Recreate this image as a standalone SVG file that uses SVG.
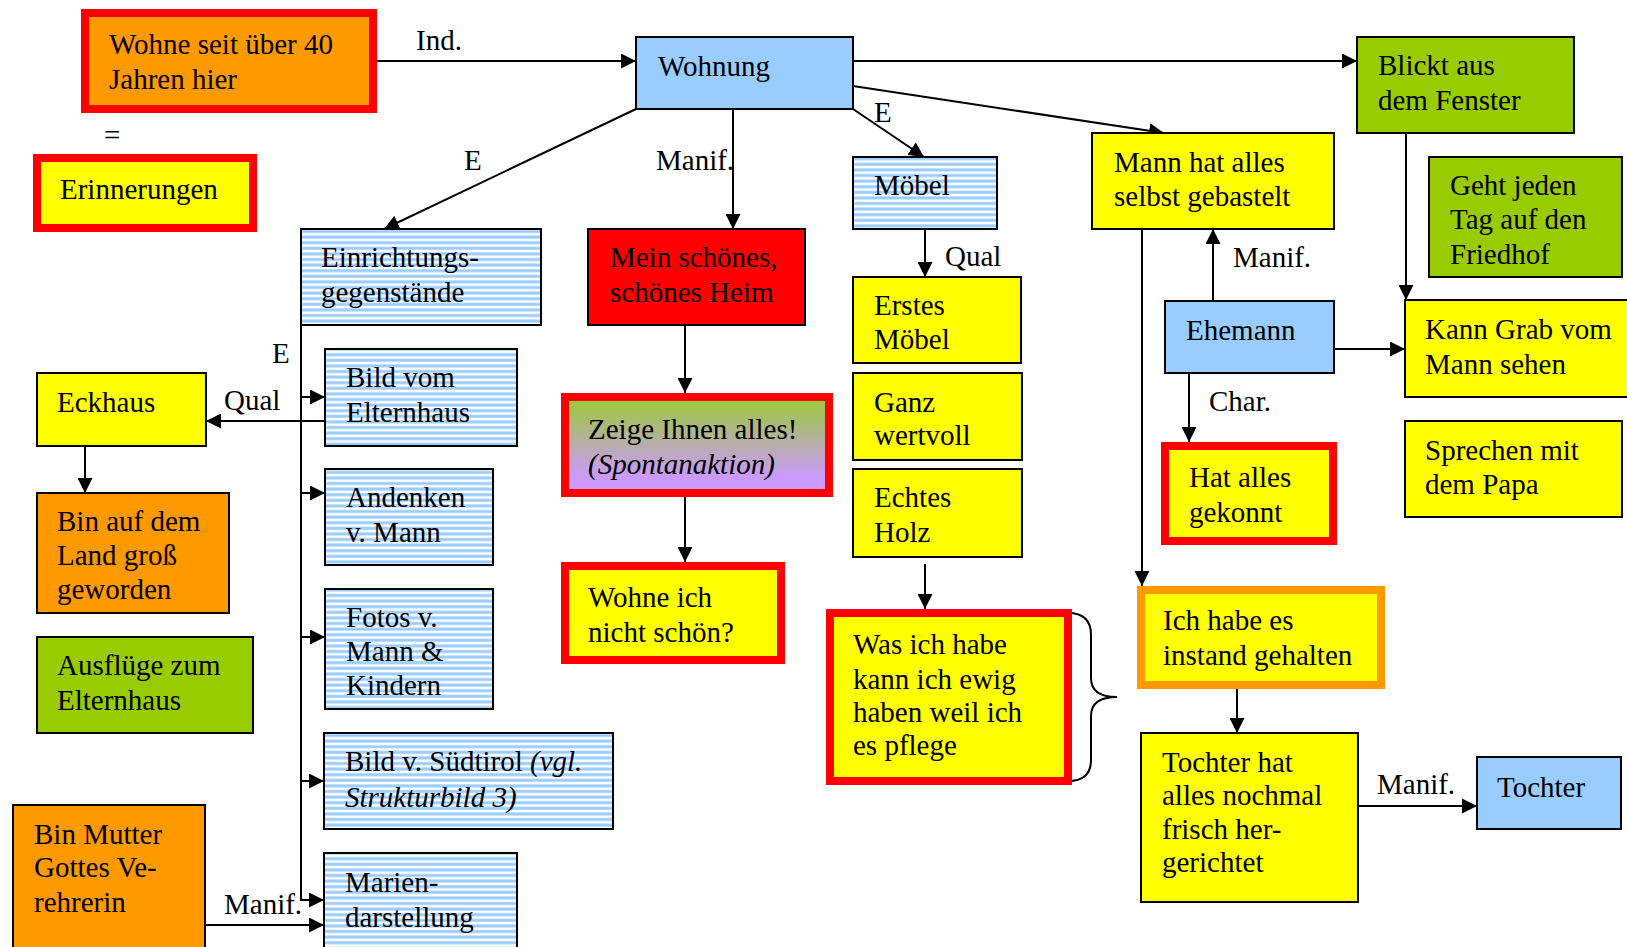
<svg xmlns="http://www.w3.org/2000/svg" width="1627" height="947" viewBox="0 0 1627 947">
  <defs>
    <style>
      .t { font-family: "Liberation Serif", "Times New Roman", serif; font-size: 29px; fill: #000; }
      .i { font-style: italic; }
      .b { stroke: #000; stroke-width: 2; }
      .k { stroke-width: 8; }
      .red { stroke: #FF0000; }
      .org { stroke: #FF9900; }
      .y { fill: #FFFF00; }
      .o { fill: #FF9900; }
      .g { fill: #99CC00; }
      .lb { fill: #99CCFF; }
      .r { fill: #FF0000; }
      .s { fill: url(#stripes); }
      .c { stroke: #000; stroke-width: 2; fill: none; }
      .a { marker-end: url(#arr); }
    </style>
    <pattern id="stripes" width="10" height="5.6" patternUnits="userSpaceOnUse">
      <rect width="10" height="5.6" fill="#FFFFFF"/>
      <rect y="0.4" width="10" height="3" fill="#99CCFF"/>
    </pattern>
    <linearGradient id="grad" x1="0" y1="0" x2="0" y2="1">
      <stop offset="0" stop-color="#99CC33"/>
      <stop offset="0.85" stop-color="#CC99FF"/>
    </linearGradient>
    <marker id="arr" markerWidth="15" markerHeight="15" refX="15" refY="7.5" orient="auto" markerUnits="userSpaceOnUse">
      <path d="M0,0 L15,7.5 L0,15 z" fill="#000"/>
    </marker>
  </defs>

  <!-- connectors -->
  <g id="connectors">
    <line class="c a" x1="377" y1="61" x2="636" y2="61"/>
    <line class="c a" x1="853" y1="61" x2="1357" y2="61"/>
    <line class="c a" x1="853" y1="86" x2="1164" y2="133"/>
    <line class="c a" x1="636" y1="109" x2="384" y2="229"/>
    <line class="c a" x1="733" y1="109" x2="733" y2="229"/>
    <line class="c a" x1="853" y1="109" x2="924" y2="157"/>
    <line class="c a" x1="925" y1="229" x2="925" y2="277"/>
    <line class="c a" x1="925" y1="564" x2="925" y2="609"/>
    <line class="c a" x1="685" y1="325" x2="685" y2="393"/>
    <line class="c a" x1="685" y1="497" x2="685" y2="562"/>
    <line class="c a" x1="1142" y1="229" x2="1142" y2="586"/>
    <line class="c a" x1="1213" y1="301" x2="1213" y2="229"/>
    <line class="c a" x1="1334" y1="349" x2="1405" y2="349"/>
    <line class="c a" x1="1189" y1="373" x2="1189" y2="442"/>
    <line class="c a" x1="1406" y1="133" x2="1406" y2="300"/>
    <line class="c a" x1="1237" y1="689" x2="1237" y2="733"/>
    <line class="c a" x1="1358" y1="806" x2="1477" y2="806"/>
    <!-- Einrichtungsgegenstände branch -->
    <polyline class="c a" points="301,325 301,900 324,900"/>
    <line class="c a" x1="301" y1="397" x2="325" y2="397"/>
    <line class="c a" x1="301" y1="493" x2="325" y2="493"/>
    <line class="c a" x1="301" y1="637" x2="325" y2="637"/>
    <line class="c a" x1="301" y1="781" x2="324" y2="781"/>
    <line class="c a" x1="325" y1="421" x2="206" y2="421"/>
    <line class="c a" x1="85" y1="446" x2="85" y2="493"/>
    <line class="c a" x1="205" y1="925" x2="324" y2="925"/>
    <!-- brace -->
    <path class="c" d="M1068,613 Q1091,613 1091,635 L1091,678 Q1091,697 1117,697 Q1091,697 1091,716 L1091,760 Q1091,781 1068,781"/>
    <!-- edge labels -->
    <text class="t" x="416" y="50">Ind.</text>
    <text class="t" x="104" y="145">=</text>
    <text class="t" x="464" y="170">E</text>
    <text class="t" x="656" y="170">Manif.</text>
    <text class="t" x="874" y="122">E</text>
    <text class="t" x="945" y="266">Qual</text>
    <text class="t" x="1233" y="267">Manif.</text>
    <text class="t" x="1209" y="411">Char.</text>
    <text class="t" x="272" y="363">E</text>
    <text class="t" x="224" y="410">Qual</text>
    <text class="t" x="224" y="914">Manif.</text>
    <text class="t" x="1377" y="794">Manif.</text>
  </g>

  <g id="wohne40">
    <rect class="o k red" x="85" y="13" width="288" height="96"/>
    <text class="t" x="109" y="54">Wohne seit über 40</text>
    <text class="t" x="109" y="89">Jahren hier</text>
  </g>
  <g id="erinnerungen">
    <rect class="y k red" x="37" y="158" width="216" height="70"/>
    <text class="t" x="60" y="199">Erinnerungen</text>
  </g>
  <g id="wohnung">
    <rect class="lb b" x="636" y="37" width="217" height="72"/>
    <text class="t" x="658" y="76">Wohnung</text>
  </g>
  <g id="blickt">
    <rect class="g b" x="1357" y="37" width="217" height="96"/>
    <text class="t" x="1378" y="75">Blickt aus</text>
    <text class="t" x="1378" y="110">dem Fenster</text>
  </g>
  <g id="mann">
    <rect class="y b" x="1092" y="133" width="242" height="96"/>
    <text class="t" x="1114" y="172">Mann hat alles</text>
    <text class="t" x="1114" y="206">selbst gebastelt</text>
  </g>
  <g id="geht">
    <rect class="g b" x="1429" y="157" width="193" height="120"/>
    <text class="t" x="1450" y="195">Geht jeden</text>
    <text class="t" x="1450" y="229">Tag auf den</text>
    <text class="t" x="1450" y="264">Friedhof</text>
  </g>
  <g id="einrichtung">
    <rect class="s b" x="301" y="229" width="240" height="96"/>
    <text class="t" x="321" y="267">Einrichtungs-</text>
    <text class="t" x="321" y="302">gegenstände</text>
  </g>
  <g id="mein">
    <rect class="r b" x="588" y="229" width="217" height="96"/>
    <text class="t" x="610" y="267">Mein schönes,</text>
    <text class="t" x="610" y="302">schönes Heim</text>
  </g>
  <g id="moebel">
    <rect class="s b" x="853" y="157" width="144" height="72"/>
    <text class="t" x="874" y="195">Möbel</text>
  </g>
  <g id="erstes">
    <rect class="y b" x="853" y="277" width="168" height="86"/>
    <text class="t" x="874" y="315">Erstes</text>
    <text class="t" x="874" y="349">Möbel</text>
  </g>
  <g id="ganz">
    <rect class="y b" x="853" y="373" width="169" height="87"/>
    <text class="t" x="874" y="412">Ganz</text>
    <text class="t" x="874" y="445">wertvoll</text>
  </g>
  <g id="echtes">
    <rect class="y b" x="853" y="469" width="169" height="88"/>
    <text class="t" x="874" y="507">Echtes</text>
    <text class="t" x="874" y="542">Holz</text>
  </g>
  <g id="ehemann">
    <rect class="lb b" x="1165" y="301" width="169" height="72"/>
    <text class="t" x="1186" y="340">Ehemann</text>
  </g>
  <g id="kanngrab">
    <rect class="y b" x="1405" y="300" width="240" height="97"/>
    <text class="t" x="1425" y="339">Kann Grab vom</text>
    <text class="t" x="1425" y="374">Mann sehen</text>
  </g>
  <g id="hatalles">
    <rect class="y k red" x="1165" y="446" width="168" height="95"/>
    <text class="t" x="1189" y="487">Hat alles</text>
    <text class="t" x="1189" y="522">gekonnt</text>
  </g>
  <g id="sprechen">
    <rect class="y b" x="1405" y="421" width="217" height="96"/>
    <text class="t" x="1425" y="460">Sprechen mit</text>
    <text class="t" x="1425" y="494">dem Papa</text>
  </g>
  <g id="eckhaus">
    <rect class="y b" x="37" y="373" width="169" height="73"/>
    <text class="t" x="57" y="412">Eckhaus</text>
  </g>
  <g id="bildvom">
    <rect class="s b" x="325" y="349" width="192" height="97"/>
    <text class="t" x="346" y="387">Bild vom</text>
    <text class="t" x="346" y="422">Elternhaus</text>
  </g>
  <g id="binauf">
    <rect class="o b" x="37" y="493" width="192" height="120"/>
    <text class="t" x="57" y="531">Bin auf dem</text>
    <text class="t" x="57" y="565">Land groß</text>
    <text class="t" x="57" y="599">geworden</text>
  </g>
  <g id="andenken">
    <rect class="s b" x="325" y="469" width="168" height="96"/>
    <text class="t" x="346" y="507">Andenken</text>
    <text class="t" x="346" y="542">v. Mann</text>
  </g>
  <g id="fotos">
    <rect class="s b" x="325" y="589" width="168" height="120"/>
    <text class="t" x="346" y="627">Fotos v.</text>
    <text class="t" x="346" y="661">Mann &amp;</text>
    <text class="t" x="346" y="695">Kindern</text>
  </g>
  <g id="ausfluege">
    <rect class="g b" x="37" y="637" width="216" height="96"/>
    <text class="t" x="57" y="675">Ausflüge zum</text>
    <text class="t" x="57" y="710">Elternhaus</text>
  </g>
  <g id="suedtirol">
    <rect class="s b" x="324" y="733" width="289" height="96"/>
    <text class="t" x="345" y="771">Bild v. Südtirol <tspan class="i">(vgl.</tspan></text>
    <text class="t i" x="345" y="807">Strukturbild 3)</text>
  </g>
  <g id="binmutter">
    <rect class="o b" x="13" y="805" width="192" height="160"/>
    <text class="t" x="34" y="844">Bin Mutter</text>
    <text class="t" x="34" y="877">Gottes Ve-</text>
    <text class="t" x="34" y="912">rehrerin</text>
  </g>
  <g id="marien">
    <rect class="s b" x="324" y="853" width="193" height="110"/>
    <text class="t" x="345" y="892">Marien-</text>
    <text class="t" x="345" y="927">darstellung</text>
  </g>
  <g id="zeige">
    <rect class="k red" fill="url(#grad)" x="565" y="397" width="264" height="96"/>
    <text class="t" x="588" y="439">Zeige Ihnen alles!</text>
    <text class="t i" x="588" y="474">(Spontanaktion)</text>
  </g>
  <g id="wohneich">
    <rect class="y k red" x="565" y="566" width="216" height="94"/>
    <text class="t" x="588" y="607">Wohne ich</text>
    <text class="t" x="588" y="642">nicht schön?</text>
  </g>
  <g id="wasich">
    <rect class="y k red" x="830" y="613" width="238" height="168"/>
    <text class="t" x="853" y="654">Was ich habe</text>
    <text class="t" x="853" y="689">kann ich ewig</text>
    <text class="t" x="853" y="722">haben weil ich</text>
    <text class="t" x="853" y="755">es pflege</text>
  </g>
  <g id="ichhabe">
    <rect class="y k org" x="1141" y="590" width="240" height="95"/>
    <text class="t" x="1163" y="630">Ich habe es</text>
    <text class="t" x="1163" y="665">instand gehalten</text>
  </g>
  <g id="tochterhat">
    <rect class="y b" x="1141" y="733" width="217" height="169"/>
    <text class="t" x="1162" y="772">Tochter hat</text>
    <text class="t" x="1162" y="805">alles nochmal</text>
    <text class="t" x="1162" y="839">frisch her-</text>
    <text class="t" x="1162" y="872">gerichtet</text>
  </g>
  <g id="tochter">
    <rect class="lb b" x="1477" y="757" width="144" height="72"/>
    <text class="t" x="1497" y="797">Tochter</text>
  </g>
</svg>
